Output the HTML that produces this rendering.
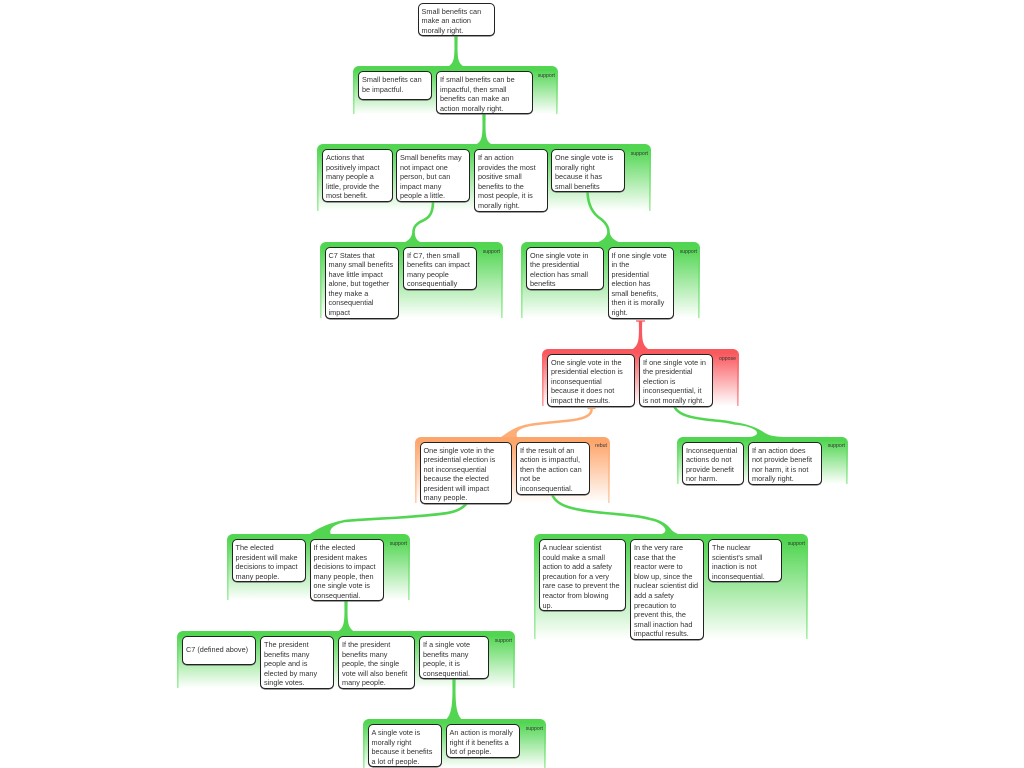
<!DOCTYPE html>
<html><head><meta charset="utf-8"><style>
html,body{margin:0;padding:0;background:#fff}
body{width:1024px;height:768px;overflow:hidden;position:relative;font-family:"Liberation Sans",sans-serif;filter:blur(.3px)}
.g{position:absolute;box-sizing:border-box;border-radius:6px 6px 0 0}
.s{background:linear-gradient(#52d652,#a8eea8) left top/1.6px 100% no-repeat,linear-gradient(#52d652,#a8eea8) right top/1.6px 100% no-repeat,linear-gradient(#52d652 0,#52d652 8%,#ffffff 100%)}
.r{background:linear-gradient(#f9595e,#fba0a3) left top/1.6px 100% no-repeat,linear-gradient(#f9595e,#fba0a3) right top/1.6px 100% no-repeat,linear-gradient(#f9595e 0,#f9595e 8%,#ffffff 100%)}
.o{background:linear-gradient(#fda66c,#fed0b0) left top/1.6px 100% no-repeat,linear-gradient(#fda66c,#fed0b0) right top/1.6px 100% no-repeat,linear-gradient(#fda66c 0,#fda66c 8%,#ffffff 100%)}
.l{position:absolute;top:6.5px;right:3px;font-size:5.2px;line-height:6px;color:#333;white-space:nowrap}
.b{position:absolute;box-sizing:border-box;background:#fff;border:1px solid #222;border-radius:5px;box-shadow:0 .6px 0 0 #666;padding:3px 0 0 3px;font-size:7.3px;line-height:9.6px;color:#333;white-space:nowrap;overflow:hidden}
svg{position:absolute;left:0;top:0}
</style></head><body>

<div class="g s" style="left:353px;top:66px;width:205px;height:48px"><div class="l">support</div></div>
<div class="g s" style="left:317px;top:144px;width:334px;height:67px"><div class="l">support</div></div>
<div class="g s" style="left:319.5px;top:242px;width:183.5px;height:76px"><div class="l">support</div></div>
<div class="g s" style="left:521px;top:242px;width:179px;height:76px"><div class="l">support</div></div>
<div class="g r" style="left:542px;top:349px;width:197px;height:57px"><div class="l">oppose</div></div>
<div class="g o" style="left:415px;top:436.5px;width:195px;height:66.5px"><div class="l">rebut</div></div>
<div class="g s" style="left:677px;top:436.5px;width:171px;height:47.5px"><div class="l">support</div></div>
<div class="g s" style="left:227px;top:534px;width:183px;height:66px"><div class="l">support</div></div>
<div class="g s" style="left:533.5px;top:534px;width:274.5px;height:105px"><div class="l">support</div></div>
<div class="g s" style="left:177px;top:631px;width:338px;height:57px"><div class="l">support</div></div>
<div class="g s" style="left:363px;top:719px;width:183px;height:49px"><div class="l">support</div></div>

<svg width="1024" height="768" viewBox="0 0 1024 768">
<g fill="#52d652">
<path d="M454.3,36C454.8,58 454.5,63 448,66.5L464,66.5C457.5,63 457.2,58 457.7,36Z"/>
<path d="M482.3,114C482.8,136 482.5,141 476,144.5L492,144.5C485.5,141 485.2,136 485.7,114Z"/>
<path d="M344.3,600C344.8,622 344.5,627 338,631.5L354,631.5C347.5,627 347.2,622 347.7,600Z"/>
<path d="M452.3,678C452.8,700 452.5,714 446,719.5L462,719.5C455.5,714 455.2,700 455.7,678Z"/>
<path d="M404,242.5C410,240 412,236 412.2,232L414.8,232C415,237 416,240 421,242.5Z"/>
<path d="M597,242.5C604,240 607,236 607.2,232L609.8,232C610,236 613,240 620,242.5Z"/>
<path d="M309,534.5C316,530 324,524 345,519.7L345,522.3C335,524 328,529 331,534.5Z"/>
<path d="M660,534.5C666,533 667,530 663,526C659,523 655,521 649.6,520.3L650.4,517.7C658,519 666,523 670,528C673,532 676,533.5 680,534.5Z"/>
<path d="M750,437C757,436 759,433 755,430C750,427 742,425 734.6,424.8L735.4,422.2C748,424 758,428 765,433C770,436 776,436.5 783,437Z"/>
</g>
<g fill="none" stroke="#52d652" stroke-width="2.6">
<path d="M433,202C433,216 427,219 420,222C415,225 413.5,228 413.5,232"/>
<path d="M587.5,192C588,205 593,214 601,219C606,223 608.5,227 608.5,232"/>
<path d="M467,503C458,514 445,514 400,517.5C375,519 355,520 345,521"/>
<path d="M552,494C556,506 572,510 605,513C625,515 640,516 650,519"/>
<path d="M674,406C678,415 690,418 715,420.5C722,421 729,422 735,423.5"/>
</g>
<path d="M591.5,409C592,417 580,420 560,421.5C545,423 535,424 530,425" fill="none" stroke="#fdae78" stroke-width="2.6"/>
<path d="M501,437C508,433 512,427 530,423.7L530,426.3C521,428 515,431 517,437Z" fill="#fdae78"/>
<path d="M587.5,408.5h8" stroke="#fdae78" stroke-width="1.3"/>
<path d="M638.8,320.5C639.2,340 639,345 632,349.5L649,349.5C642,345 641.8,340 642.2,320.5Z" fill="#f9595e"/>
<path d="M636,321h9" stroke="#f9595e" stroke-width="1.3"/>
</svg>

<div class="b" style="left:417.5px;top:2.5px;width:77.5px;height:33.5px">Small benefits can<br>make an action<br>morally right.</div>
<div class="b" style="left:358px;top:71px;width:74px;height:28.5px">Small benefits can<br>be impactful.</div>
<div class="b" style="left:436px;top:71px;width:96.5px;height:43px">If small benefits can be<br>impactful, then small<br>benefits can make an<br>action morally right.</div>
<div class="b" style="left:322px;top:149px;width:70.5px;height:53px">Actions that<br>positively impact<br>many people a<br>little, provide the<br>most benefit.</div>
<div class="b" style="left:396px;top:149px;width:74px;height:53px">Small benefits may<br>not impact one<br>person, but can<br>impact many<br>people a little.</div>
<div class="b" style="left:474px;top:149px;width:73.5px;height:62.5px">If an action<br>provides the most<br>positive small<br>benefits to the<br>most people, it is<br>morally right.</div>
<div class="b" style="left:551px;top:149px;width:74px;height:43px">One single vote is<br>morally right<br>because it has<br>small benefits</div>
<div class="b" style="left:324.5px;top:246.5px;width:74px;height:72px">C7 States that<br>many small benefits<br>have little impact<br>alone, but together<br>they make a<br>consequential<br>impact</div>
<div class="b" style="left:403px;top:246.5px;width:73.5px;height:43px">If C7, then small<br>benefits can impact<br>many people<br>consequentially</div>
<div class="b" style="left:526px;top:246.5px;width:77.5px;height:43px">One single vote in<br>the presidential<br>election has small<br>benefits</div>
<div class="b" style="left:607.5px;top:246.5px;width:66.5px;height:72px">If one single vote<br>in the<br>presidential<br>election has<br>small benefits,<br>then it is morally<br>right.</div>
<div class="b" style="left:547px;top:353.5px;width:88px;height:53px">One single vote in the<br>presidential election is<br>inconsequential<br>because it does not<br>impact the results.</div>
<div class="b" style="left:639px;top:353.5px;width:74px;height:53px">If one single vote in<br>the presidential<br>election is<br>inconsequential, it<br>is not morally right.</div>
<div class="b" style="left:419.5px;top:441.5px;width:92px;height:62px">One single vote in the<br>presidential election is<br>not inconsequential<br>because the elected<br>president will impact<br>many people.</div>
<div class="b" style="left:516px;top:441.5px;width:74px;height:53px">If the result of an<br>action is impactful,<br>then the action can<br>not be<br>inconsequential.</div>
<div class="b" style="left:682px;top:441.5px;width:62px;height:43px">Inconsequential<br>actions do not<br>provide benefit<br>nor harm.</div>
<div class="b" style="left:748px;top:441.5px;width:74px;height:43px">If an action does<br>not provide benefit<br>nor harm, it is not<br>morally right.</div>
<div class="b" style="left:231.5px;top:539px;width:74px;height:43px">The elected<br>president will make<br>decisions to impact<br>many people.</div>
<div class="b" style="left:309.5px;top:539px;width:74px;height:62px">If the elected<br>president makes<br>decisions to impact<br>many people, then<br>one single vote is<br>consequential.</div>
<div class="b" style="left:538.5px;top:539px;width:87px;height:72px">A nuclear scientist<br>could make a small<br>action to add a safety<br>precaution for a very<br>rare case to prevent the<br>reactor from blowing<br>up.</div>
<div class="b" style="left:630px;top:539px;width:74px;height:100.5px">In the very rare<br>case that the<br>reactor were to<br>blow up, since the<br>nuclear scientist did<br>add a safety<br>precaution to<br>prevent this, the<br>small inaction had<br>impactful results.</div>
<div class="b" style="left:708px;top:539px;width:74px;height:43px">The nuclear<br>scientist's small<br>inaction is not<br>inconsequential.</div>
<div class="b" style="left:181.5px;top:636px;width:74px;height:28.5px;padding:8px 0 0 3.5px">C7 (defined above)</div>
<div class="b" style="left:260px;top:636px;width:74px;height:53px">The president<br>benefits many<br>people and is<br>elected by many<br>single votes.</div>
<div class="b" style="left:338px;top:636px;width:77px;height:53px">If the president<br>benefits many<br>people, the single<br>vote will also benefit<br>many people.</div>
<div class="b" style="left:419px;top:636px;width:70px;height:43px">If a single vote<br>benefits many<br>people, it is<br>consequential.</div>
<div class="b" style="left:367.5px;top:724px;width:74px;height:43px">A single vote is<br>morally right<br>because it benefits<br>a lot of people.</div>
<div class="b" style="left:445.5px;top:724px;width:74px;height:33.5px">An action is morally<br>right if it benefits a<br>lot of people.</div>
</body></html>
